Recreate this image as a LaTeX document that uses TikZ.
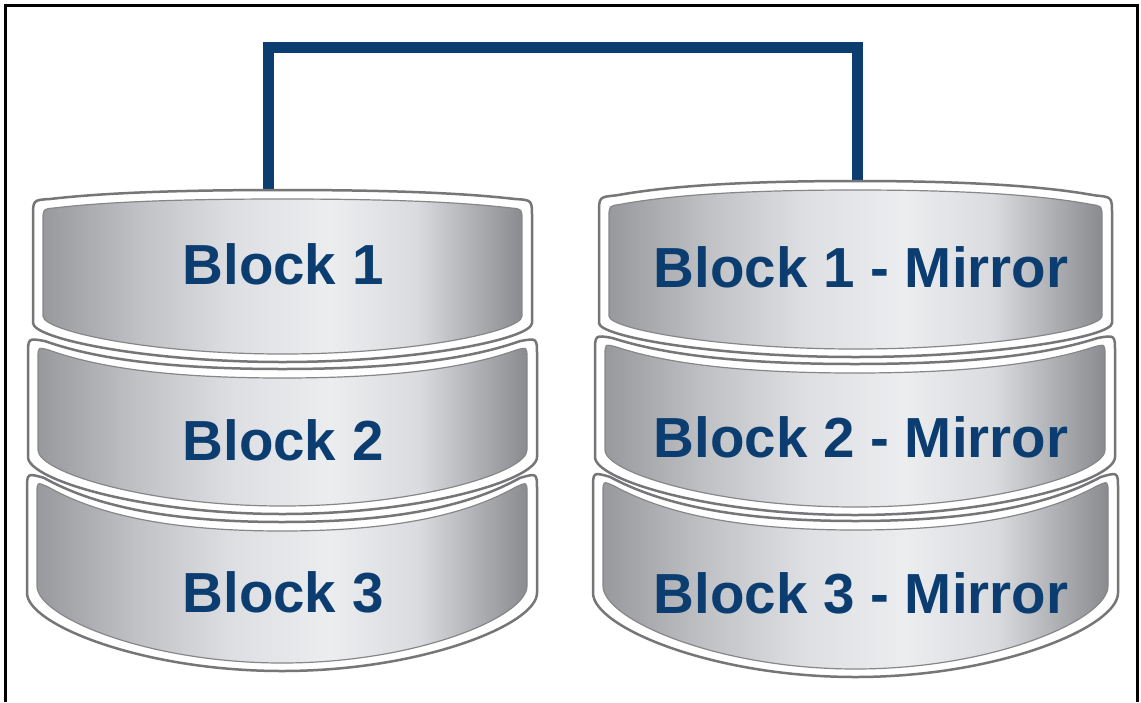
\documentclass[tikz,border=0pt]{standalone}
\usepackage{fontspec}
\setmainfont{Liberation Sans}
\definecolor{navy}{RGB}{12,61,112}
\definecolor{rimgray}{RGB}{118,118,120}
\definecolor{innergray}{RGB}{135,135,138}
\definecolor{dkA}{RGB}{152,153,156}
\definecolor{dkB}{RGB}{192,193,196}
\definecolor{dkC}{RGB}{222,223,226}
\definecolor{dkD}{RGB}{236,237,239}
\definecolor{dkF}{RGB}{218,219,222}
\definecolor{dkE}{RGB}{138,139,142}
\pgfdeclarehorizontalshading{diskshade}{100bp}{color(0bp)=(dkA); color(25bp)=(dkA); color(35bp)=(dkB); color(45bp)=(dkC); color(55bp)=(dkD); color(64bp)=(dkF); color(75bp)=(dkE); color(100bp)=(dkE)}
\newcommand\setdisk[7]{%
  \pgfmathsetmacro\dkL{#1}\pgfmathsetmacro\dkR{#2}%
  \pgfmathsetmacro\dkT{#3}\pgfmathsetmacro\dkTC{#4}%
  \pgfmathsetmacro\dkB{#5}\pgfmathsetmacro\dkBC{#6}%
  \pgfmathsetmacro\dkr{#7}%
  \pgfmathsetmacro\dkM{(\dkL+\dkR)/2}%
  \pgfmathsetmacro\dkyA{\dkT+0.1*(\dkTC-\dkT)}%
  \pgfmathsetmacro\dkD{\dkM-\dkL-\dkr}%
  \pgfmathsetmacro\dkcA{\dkL+\dkr+0.2*\dkD}%
  \pgfmathsetmacro\dkcAr{\dkR-\dkr-0.2*\dkD}%
  \pgfmathsetmacro\dkyC{\dkyA+0.6*(\dkTC-\dkyA)}%
  \pgfmathsetmacro\dkcB{\dkM-0.5*\dkD}%
  \pgfmathsetmacro\dkcBr{\dkM+0.5*\dkD}%
  \pgfmathsetmacro\dkyE{\dkB+0.4*(\dkBC-\dkB)}%
  \pgfmathsetmacro\dkbl{\dkM-0.55*(\dkM-\dkL)}%
  \pgfmathsetmacro\dkbr{\dkM+0.55*(\dkM-\dkL)}%
}
\newcommand\diskpath[1]{%
  \path[#1] (\dkL,{\dkT+\dkr}) .. controls (\dkL,\dkT) .. ({\dkL+\dkr},\dkyA)
    .. controls (\dkcA,\dkyC) and (\dkcB,\dkTC) .. (\dkM,\dkTC)
    .. controls (\dkcBr,\dkTC) and (\dkcAr,\dkyC) .. ({\dkR-\dkr},\dkyA)
    .. controls (\dkR,\dkT) .. (\dkR,{\dkT+\dkr})
    -- (\dkR,\dkB) .. controls (\dkR,\dkyE) and (\dkbr,\dkBC) .. (\dkM,\dkBC)
    .. controls (\dkbl,\dkBC) and (\dkL,\dkyE) .. (\dkL,\dkB) -- cycle;}
\newcommand\mydisk[6]{%
  \setdisk{#1}{#2}{#3}{#4}{#5}{#6}{17}%
  \diskpath{fill=white, draw=rimgray, line width=2.5pt}%
  \setdisk{#1+10}{#2-10}{#3+9}{#4+9}{#5-7}{#6-8}{11}%
  \diskpath{shade, shading=diskshade, draw=innergray, line width=1.2pt}%
}
\tikzset{
  conn/.style={draw=navy, line width=11pt, miter limit=10},
  lbl/.style={text=navy, font=\fontsize{56.5}{62}\selectfont\bfseries, anchor=base, inner sep=0pt},
  frame/.style={draw=black, line width=2.5pt}
}
\begin{document}
\begin{tikzpicture}[x=1pt,y=-1pt]
\useasboundingbox (0,0) rectangle (1141,702);
\fill[white] (0,0) rectangle (1141,702);
\draw[frame] (5.5,702) -- (5.5,5.5) -- (1137.5,5.5) -- (1137.5,702);
% connector
\coordinate (l1top) at (268,195);
\coordinate (r1top) at (857,187);
\coordinate (bus) at (560,47);
\draw[conn] (l1top) |- (bus) -| (r1top);
% left stack
\mydisk{27}{537}{473}{522}{593}{671}
\mydisk{28}{537}{338}{369}{457}{514}
\mydisk{33}{532}{200}{190}{323}{362}
% right stack
\mydisk{593}{1118}{472}{521}{593}{677}
\mydisk{595}{1115}{335}{364}{457}{515}
\mydisk{599}{1112}{197}{181}{323}{357}
% labels
\node[lbl] (b1) at (283,284) {Block 1};
\node[lbl] (b2) at (283,460) {Block 2};
\node[lbl] (b3) at (283,612) {Block 3};
\node[lbl] (m1) at (861,287) {Block 1 - Mirror};
\node[lbl] (m2) at (861,457) {Block 2 - Mirror};
\node[lbl] (m3) at (861,613) {Block 3 - Mirror};
\end{tikzpicture}
\end{document}
